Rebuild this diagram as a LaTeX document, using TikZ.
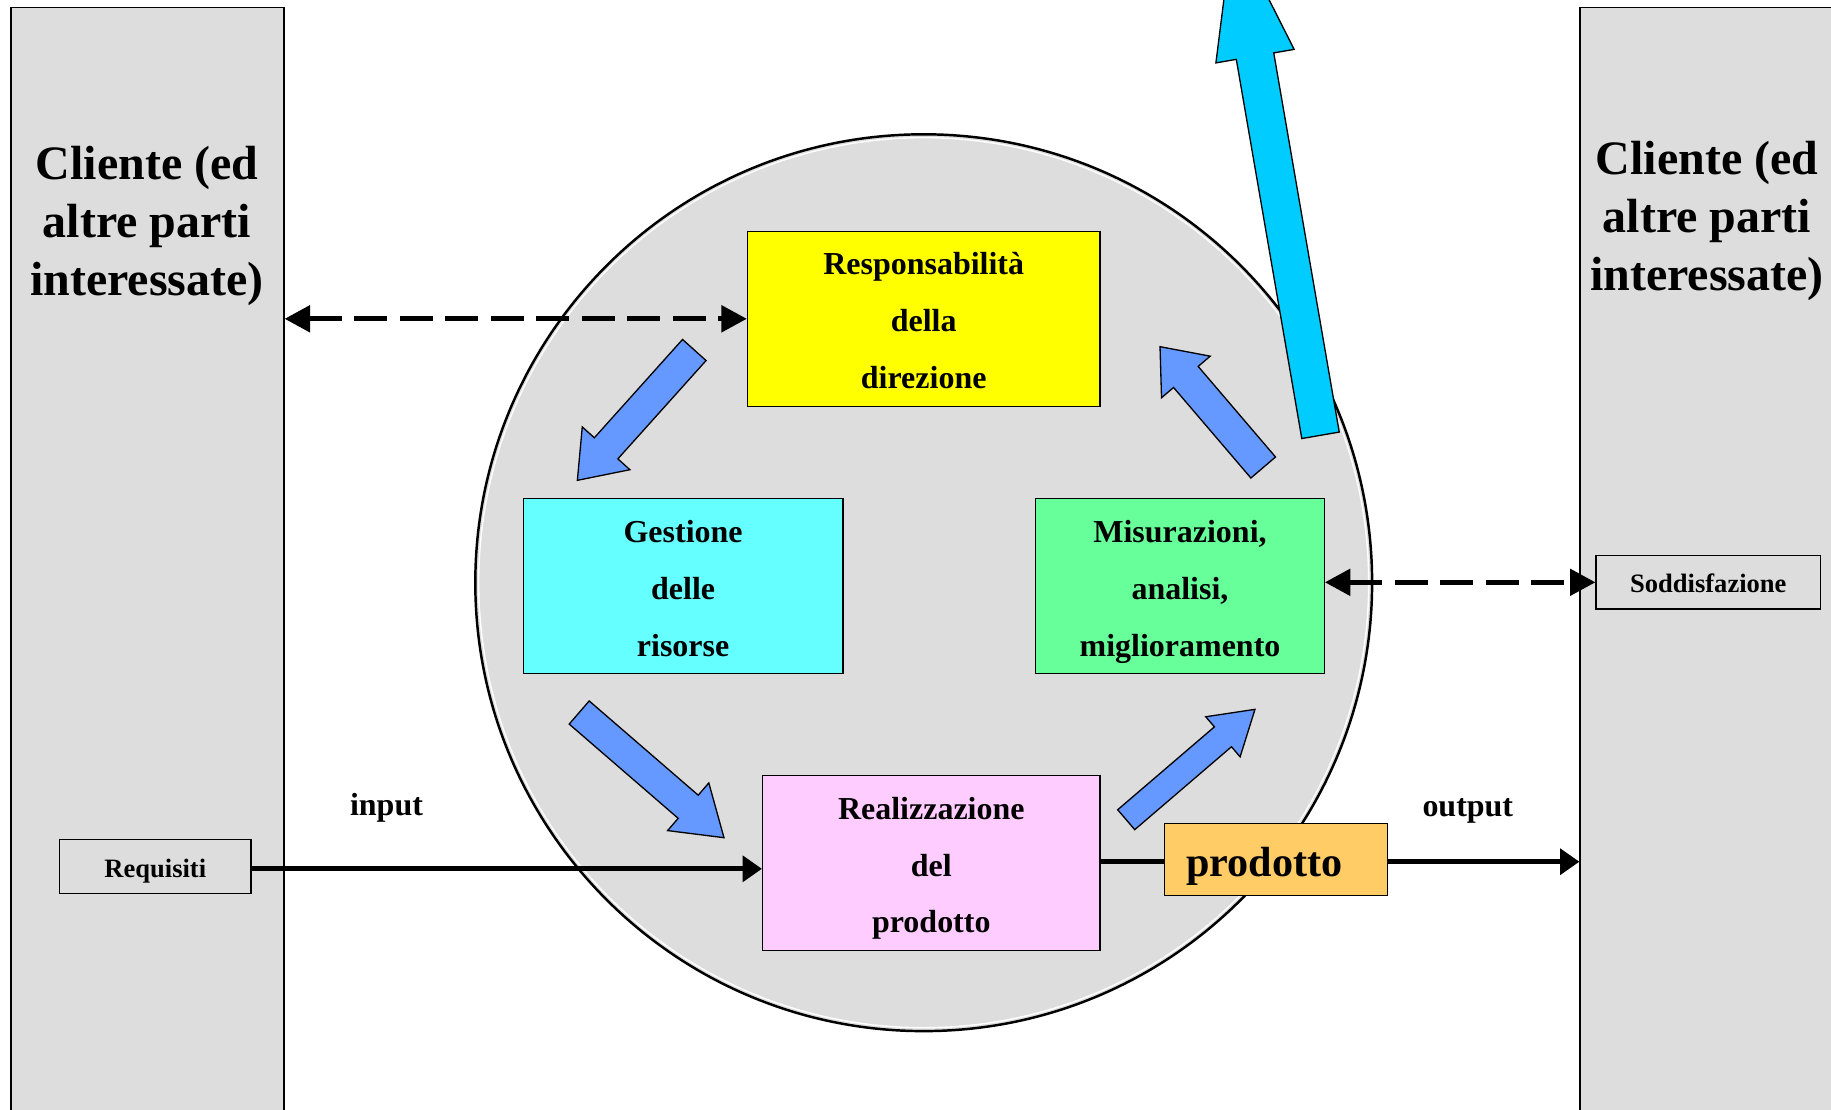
\documentclass[tikz,border=0pt]{standalone}
\usepackage{fontspec}
\setmainfont{Liberation Serif}
\usetikzlibrary{arrows.meta}

\definecolor{columngray}{HTML}{DDDDDD}
\definecolor{arrowblue}{HTML}{6699FF}
\definecolor{exitcyan}{HTML}{00CCFF}
\definecolor{respyellow}{HTML}{FFFF00}
\definecolor{gestcyan}{HTML}{66FFFF}
\definecolor{misurgreen}{HTML}{66FF99}
\definecolor{realpink}{HTML}{FFCCFF}
\definecolor{prodorange}{HTML}{FFCC66}

% three centred lines with fixed top and bottom
\newcommand\threelines[3]{\rule{0pt}{20pt}#1\\#2\\#3\rule[-5.2pt]{0pt}{5.2pt}}

\tikzset{
  column/.style={draw, line width=0.7pt, fill=columngray, inner sep=0pt,
    minimum width=5.46cm, minimum height=22.45cm},
  title/.style={align=center, font=\bfseries\fontsize{27.3}{33}\selectfont},
  procbox/.style={draw, line width=0.7pt, inner sep=0pt, minimum height=3.5cm,
    align=center, font=\bfseries\fontsize{18.2}{32.4}\selectfont},
  tagbox/.style={draw, line width=0.7pt, fill=columngray, inner sep=0pt,
    minimum height=1.07cm, text height=14pt, text depth=2pt,
    font=\bfseries\fontsize{15.1}{18}\selectfont},
  label/.style={font=\bfseries\fontsize{18.2}{22}\selectfont},
  flow/.style={line width=3pt, -{Triangle[length=11pt,width=14.5pt]}},
  feedback/.style={line width=3pt, dash pattern=on 18.8pt off 7.1pt,
    {Triangle[length=14.5pt,width=14.8pt]}-{Triangle[length=14.5pt,width=14.8pt]}},
  % block arrow: length, half shaft, half head, head length, colour
  pics/blockarr/.style n args={5}{code={
    \draw[line width=0.75pt, fill=#5] (0,-#2) -- ({#1-#4},-#2) -- ({#1-#4},-#3)
      -- (#1,0) -- ({#1-#4},#3) -- ({#1-#4},#2) -- (0,#2) -- cycle;
  }}
}

\begin{document}
\begin{tikzpicture}[x=0.02cm, y=-0.02cm]
  \useasboundingbox (0,0) rectangle (1831,1109);
  \fill[white] (0,0) rectangle (1831,1109);
  \clip (0,0) rectangle (1831,1109);

  % customer columns
  \node[column] (colL) at (147.5,568.6) {};
  \node[column] (colR) at (1716.5,568.6) {};
  \node[title] (titleL) at (147,226.4) {Cliente (ed\\altre parti\\interessate)};
  \node[title] (titleR) at (1707,220.5) {Cliente (ed\\altre parti\\interessate)};

  % process circle
  \draw[line width=1.4pt, fill=columngray] (923.7,582.7) circle[radius=448.4];
  \draw[white, line width=0.8pt] (923.7,582.7) circle[radius=445];

  \node[procbox, fill=respyellow, minimum width=7.05cm] (resp) at (923.7,318.8)
    {\threelines{Responsabilità}{della}{direzione}};
  \node[procbox, fill=gestcyan, minimum width=6.4cm] (gest) at (683.1,586.2)
    {\threelines{Gestione}{delle}{risorse}};
  \node[procbox, fill=misurgreen, minimum width=5.77cm] (misur) at (1180,586.2)
    {\threelines{Misurazioni,}{analisi,}{miglioramento}};
  \node[procbox, fill=realpink, minimum width=6.75cm] (real) at (931.3,863)
    {\threelines{Realizzazione}{del}{prodotto}};

  % cycle arrows
  \pic[rotate=228.1] at (694.3,350) {blockarr={175.1}{15.8}{32}{43}{arrowblue}};
  \pic[rotate=-40.85] at (579.2,712.5) {blockarr={191.4}{15.3}{31.5}{47.3}{arrowblue}};
  \pic[rotate=40.6] at (1126.2,819.7) {blockarr={169.6}{13.1}{26.4}{42.2}{arrowblue}};
  \pic[rotate=130.5] at (1263.2,467.5) {blockarr={158.9}{16.2}{32}{39.8}{arrowblue}};
  \pic[rotate=99.8] at (1320.5,435.3) {blockarr={514.8}{19}{39.7}{130}{exitcyan}};

  % inputs and outputs
  \node[tagbox, minimum width=3.83cm] (req) at (155.3,866.5) {Requisiti};
  \node[tagbox, minimum width=4.49cm] (sodd) at (1708.3,582.3) {Soddisfazione};
  \node[draw, line width=0.7pt, fill=prodorange, inner sep=0pt, minimum width=4.46cm,
    minimum height=1.45cm, text width=3.57cm, align=left, text height=19pt, text depth=0pt,
    font=\bfseries\fontsize{24}{28}\selectfont] (prod) at (1275.7,859.4) {prodotto};
  \node[label] (in) at (386.5,808) {input};
  \node[label] (out) at (1467.8,810.5) {output};

  \draw[flow] ([yshift=-0.046cm]req.east) -- ([yshift=-0.046cm]req.east -| real.west);
  \draw[line width=3pt] ([yshift=-0.046cm]prod.west -| real.east) -- ([yshift=-0.046cm]prod.west);
  \draw[flow] ([yshift=-0.046cm]prod.east) -- ([yshift=-0.046cm]prod.east -| colR.west);
  \draw[feedback] (resp.west -| colL.east) -- (resp.west);
  \draw[feedback] (sodd.west -| misur.east) -- (sodd.west);
\end{tikzpicture}
\end{document}
